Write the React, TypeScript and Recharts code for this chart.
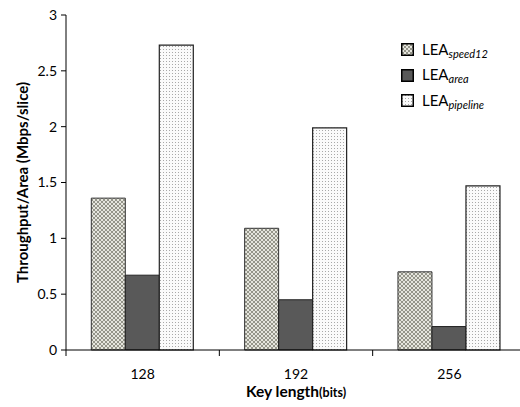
import { BarChart, Bar, XAxis, YAxis, Label } from 'recharts'

const keyLengths = ['128', '192', '256']
const speed12 = [1.36, 1.09, 0.7]
const area = [0.67, 0.45, 0.21]
const pipeline = [2.73, 1.99, 1.47]
const yTicks = [0, 0.5, 1, 1.5, 2, 2.5, 3]

const data = keyLengths.map((k, i) => ({
  key: k,
  speed12: speed12[i],
  area: area[i],
  pipeline: pipeline[i],
}))

const FONT = 'Lato, "Open Sans", sans-serif'
const CHART_W = 530
const CHART_H = 407
const MARGIN = { top: 15, right: 4, left: 0, bottom: 27 }
const Y_W = 66
const BAND = (CHART_W - MARGIN.left - MARGIN.right - Y_W) / keyLengths.length

const XTick = ({ x, y, payload, index }: any) => {
  const left = x - BAND / 2
  return (
    <g>
      <line x1={left} y1={y - 8} x2={left} y2={y - 2} stroke="#000" strokeWidth={1} />
      {index === keyLengths.length - 1 && (
        <line x1={x + BAND / 2} y1={y - 8} x2={x + BAND / 2} y2={y - 2} stroke="#000" strokeWidth={1} />
      )}
      <text x={x} y={y + 21} textAnchor="middle" fontSize={14} fontFamily={FONT} fill="#000">
        {payload.value}
      </text>
    </g>
  )
}

const legendItems = [
  { fill: 'url(#hatch)', sub: 'speed12' },
  { fill: '#595959', sub: 'area' },
  { fill: 'url(#dots)', sub: 'pipeline' },
]

export default function App() {
  return (
    <div style={{ position: 'absolute', left: 0, top: 0, width: 520, height: 407, overflow: 'hidden', background: '#fff' }}>
      <BarChart
        width={CHART_W}
        height={CHART_H}
        data={data}
        margin={MARGIN}
        barGap={0}
        barCategoryGap="16.5%"
      >
        <defs>
          <pattern id="hatch" width="4" height="4" patternUnits="userSpaceOnUse">
            <rect width="4" height="4" fill="#e6e6de" />
            <path d="M0,0 L4,4 M4,0 L0,4" stroke="#8c8c80" strokeWidth="0.9" />
          </pattern>
          <pattern id="dots" width="3" height="3" patternUnits="userSpaceOnUse">
            <rect width="3" height="3" fill="#fafafa" />
            <rect x="1" y="1" width="1" height="1" fill="#a8a8a8" />
          </pattern>
        </defs>
        <XAxis
          dataKey="key"
          tickLine={false}
          axisLine={{ stroke: '#000' }}
          tick={<XTick />}
          height={30}
          interval={0}
        >
          <Label
            content={({ viewBox }: any) => (
              <text
                x={viewBox.x + viewBox.width / 2}
                y={397}
                textAnchor="middle"
                fontFamily={FONT}
                fontWeight="bold"
                fill="#000"
              >
                <tspan fontSize={15.5}>Key length</tspan>
                <tspan fontSize={12.5}>(bits)</tspan>
              </text>
            )}
          />
        </XAxis>
        <YAxis
          width={Y_W}
          domain={[0, 3]}
          ticks={yTicks}
          tickSize={5}
          tickLine={{ stroke: '#000' }}
          axisLine={{ stroke: '#000' }}
          tick={{ fill: '#000', fontSize: 14, fontFamily: FONT }}
          tickMargin={4}
        >
          <Label
            content={({ viewBox }: any) => {
              const cy = viewBox.y + viewBox.height / 2
              return (
                <text
                  x={22}
                  y={cy}
                  transform={`rotate(-90, 22, ${cy})`}
                  textAnchor="middle"
                  dominantBaseline="central"
                  fontSize={15}
                  fontWeight="bold"
                  fontFamily={FONT}
                  fill="#000"
                >
                  Throughput/Area (Mbps/slice)
                </text>
              )
            }}
          />
        </YAxis>
        <Bar dataKey="speed12" fill="url(#hatch)" stroke="#333" strokeWidth={1} isAnimationActive={false} />
        <Bar dataKey="area" fill="#595959" stroke="#222" strokeWidth={1} isAnimationActive={false} />
        <Bar dataKey="pipeline" fill="url(#dots)" stroke="#222" strokeWidth={1.2} isAnimationActive={false} />
      </BarChart>
      <div style={{ position: 'absolute', left: 401, top: 37, fontFamily: FONT }}>
        {legendItems.map((it) => (
          <div key={it.sub} style={{ display: 'flex', alignItems: 'center', height: 25.5 }}>
            <svg width={13} height={13} style={{ marginRight: 8 }}>
              <rect x={0.75} y={0.75} width={11.5} height={11.5} fill={it.fill} stroke="#000" strokeWidth={1.5} />
            </svg>
            <span style={{ fontSize: 15, color: '#000' }}>
              LEA
              <sub style={{ fontSize: 11, fontStyle: 'italic', verticalAlign: -3 }}>{it.sub}</sub>
            </span>
          </div>
        ))}
      </div>
    </div>
  )
}
